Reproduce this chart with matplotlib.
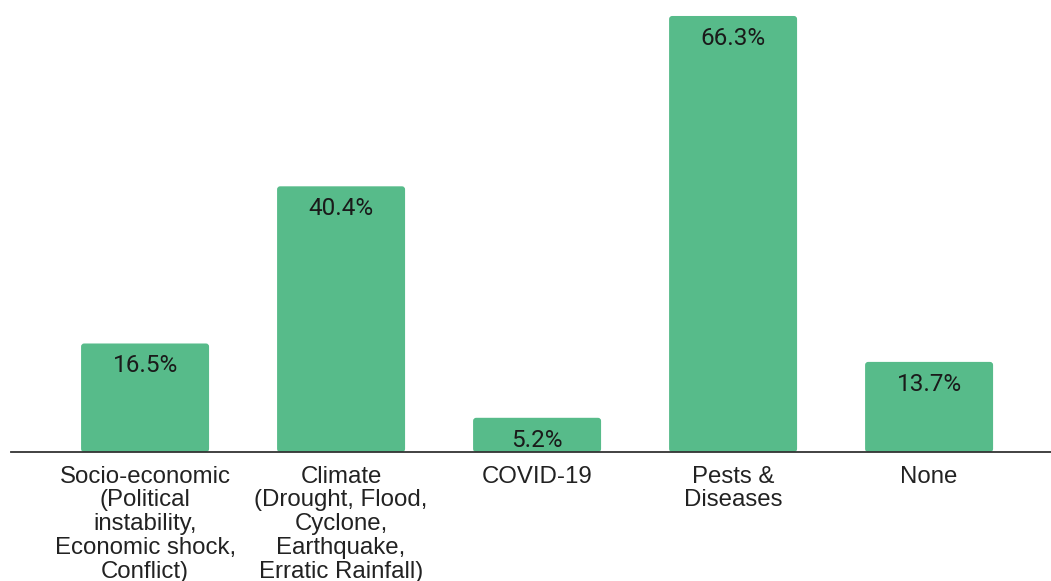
import matplotlib
matplotlib.use("Agg")
import matplotlib.pyplot as plt
from matplotlib.patches import FancyBboxPatch

categories = [
    "Socio-economic\n(Political\ninstability,\nEconomic shock,\nConflict)",
    "Climate\n(Drought, Flood,\nCyclone,\nEarthquake,\nErratic Rainfall)",
    "COVID-19",
    "Pests &\nDiseases",
    "None",
]
values = [16.5, 40.4, 5.2, 66.3, 13.7]

bar_color = "#57bb8a"

fig = plt.figure(figsize=(10.51, 5.81), dpi=100)
ax = fig.add_axes([11 / 1051, 129 / 581, 1 - 11 / 1051, 452 / 581])

x = range(len(values))
bars = ax.bar(x, values, width=0.653, color=bar_color)

# swap the plain rectangles for ones with slightly rounded corners
for b in bars:
    b.set_visible(False)
    patch = FancyBboxPatch(
        (b.get_x(), b.get_y()), b.get_width(), b.get_height(),
        boxstyle="round,pad=0,rounding_size=0.016",
        mutation_aspect=29,
        facecolor=bar_color, edgecolor="none",
    )
    ax.add_patch(patch)

for xi, v in zip(x, values):
    ax.annotate(f"{v}%", (xi, v), xytext=(0, -16), textcoords="offset points",
                ha="center", va="center", fontsize=17.5, family="Roboto",
                color="#1a1a1a")

ax.set_xlim(-0.684, 4.622)
ax.set_ylim(0, 68.73)

ax.set_xticks(list(x))
ax.set_xticklabels(categories, family="Liberation Sans", fontsize=17.3,
                   linespacing=1.11, color="#222222", multialignment="center")
ax.tick_params(axis="x", length=0, pad=9.8)
ax.set_yticks([])

for side in ["top", "left", "right"]:
    ax.spines[side].set_visible(False)
ax.spines["bottom"].set_color("#333333")
ax.spines["bottom"].set_linewidth(1.3)

fig.savefig("out.png", dpi=100)
